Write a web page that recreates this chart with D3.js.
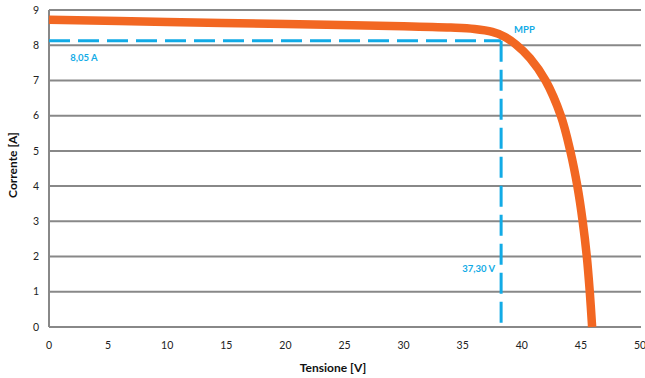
<!DOCTYPE html>
<html>
<head>
<meta charset="utf-8">
<script src="https://cdn.jsdelivr.net/npm/d3@7"></script>
<style>
  body { margin: 0; background: #fff; }
  text { font-family: Lato, "Open Sans", sans-serif; }
</style>
</head>
<body>
<div id="chart"></div>
<script>
// I-V curve
const voltage = [0, 10, 20, 30, 34, 36, 37.5, 38.5, 39.5, 40.7, 42.0, 43.3, 44.1, 44.7, 45.15, 45.5, 45.75, 45.95];
const current = [8.72, 8.66, 8.6, 8.54, 8.5, 8.46, 8.38, 8.25, 8.02, 7.63, 7.0, 6.0, 5.0, 4.0, 3.0, 2.0, 1.0, 0];
const xTicks = [0, 5, 10, 15, 20, 25, 30, 35, 40, 45, 50];
const yTicks = [0, 1, 2, 3, 4, 5, 6, 7, 8, 9];
const mpp = {v: 38.25, i: 8.13, vLabel: "37,30 V", iLabel: "8,05 A"};

const margin = {top: 10, right: 4, bottom: 51, left: 49};
const W = 645, H = 378;
const width = W - margin.left - margin.right;
const height = H - margin.top - margin.bottom;

const svg = d3.select("#chart").append("svg")
    .attr("width", W).attr("height", H);
const g = svg.append("g").attr("transform", `translate(${margin.left},${margin.top})`);

const x = d3.scaleLinear().domain([0, 50]).range([0, width - 1]);
const y = d3.scaleLinear().domain([0, 9]).range([height, 0]);

// gridlines
g.selectAll(".grid").data(yTicks).enter().append("line")
    .attr("x1", 0).attr("x2", width)
    .attr("y1", d => y(d)).attr("y2", d => y(d))
    .attr("stroke", "#888").attr("stroke-width", 2);
g.append("line").attr("x1", 0).attr("x2", 0).attr("y1", y(9)).attr("y2", y(0))
    .attr("stroke", "#888").attr("stroke-width", 2);

// tick labels
g.selectAll(".ylab").data(yTicks).enter().append("text")
    .attr("x", -10).attr("y", d => y(d)).attr("dy", "0.35em")
    .attr("text-anchor", "end").attr("font-size", 10.5).attr("fill", "#222")
    .text(d => d);
g.selectAll(".xlab").data(xTicks).enter().append("text")
    .attr("x", d => x(d)).attr("y", height + 22)
    .attr("text-anchor", "middle").attr("font-size", 10.5).attr("fill", "#222")
    .text(d => d);

// axis titles
svg.append("text")
    .attr("transform", `translate(17,165) rotate(-90)`)
    .attr("text-anchor", "middle").attr("font-size", 12).attr("font-weight", "bold")
    .attr("fill", "#111").text("Corrente [A]");
svg.append("text")
    .attr("x", 333).attr("y", 372)
    .attr("text-anchor", "middle").attr("font-size", 12).attr("font-weight", "bold")
    .attr("fill", "#111").text("Tensione [V]");

// MPP dashed guides
const blue = "#12ABE6";
g.append("line")
    .attr("x1", 0).attr("x2", x(mpp.v)).attr("y1", y(mpp.i)).attr("y2", y(mpp.i))
    .attr("stroke", blue).attr("stroke-width", 3).attr("stroke-dasharray", "21,8");
g.append("line")
    .attr("x1", x(mpp.v)).attr("x2", x(mpp.v)).attr("y1", y(mpp.i)).attr("y2", y(0))
    .attr("stroke", blue).attr("stroke-width", 3).attr("stroke-dasharray", "21,8");

// curve
const pts = voltage.map((v, k) => [v, current[k]]);
g.append("path").datum(pts)
    .attr("d", d3.line().x(d => x(d[0])).y(d => y(d[1])).curve(d3.curveCatmullRom.alpha(0.5)))
    .attr("fill", "none").attr("stroke", "#F26722").attr("stroke-width", 8.5);

// labels
g.append("text").attr("x", x(1.8)).attr("y", y(mpp.i) + 20)
    .attr("font-size", 9.5).attr("font-weight", "bold").attr("fill", blue).text(mpp.iLabel);
g.append("text").attr("x", x(mpp.v) + 13).attr("y", y(mpp.i) - 8)
    .attr("font-size", 9.5).attr("font-weight", "bold").attr("fill", blue).text("MPP");
g.append("text").attr("x", x(mpp.v) - 6).attr("y", y(1.57))
    .attr("text-anchor", "end")
    .attr("font-size", 9.5).attr("font-weight", "bold").attr("fill", blue).text(mpp.vLabel);
</script>
</body>
</html>
